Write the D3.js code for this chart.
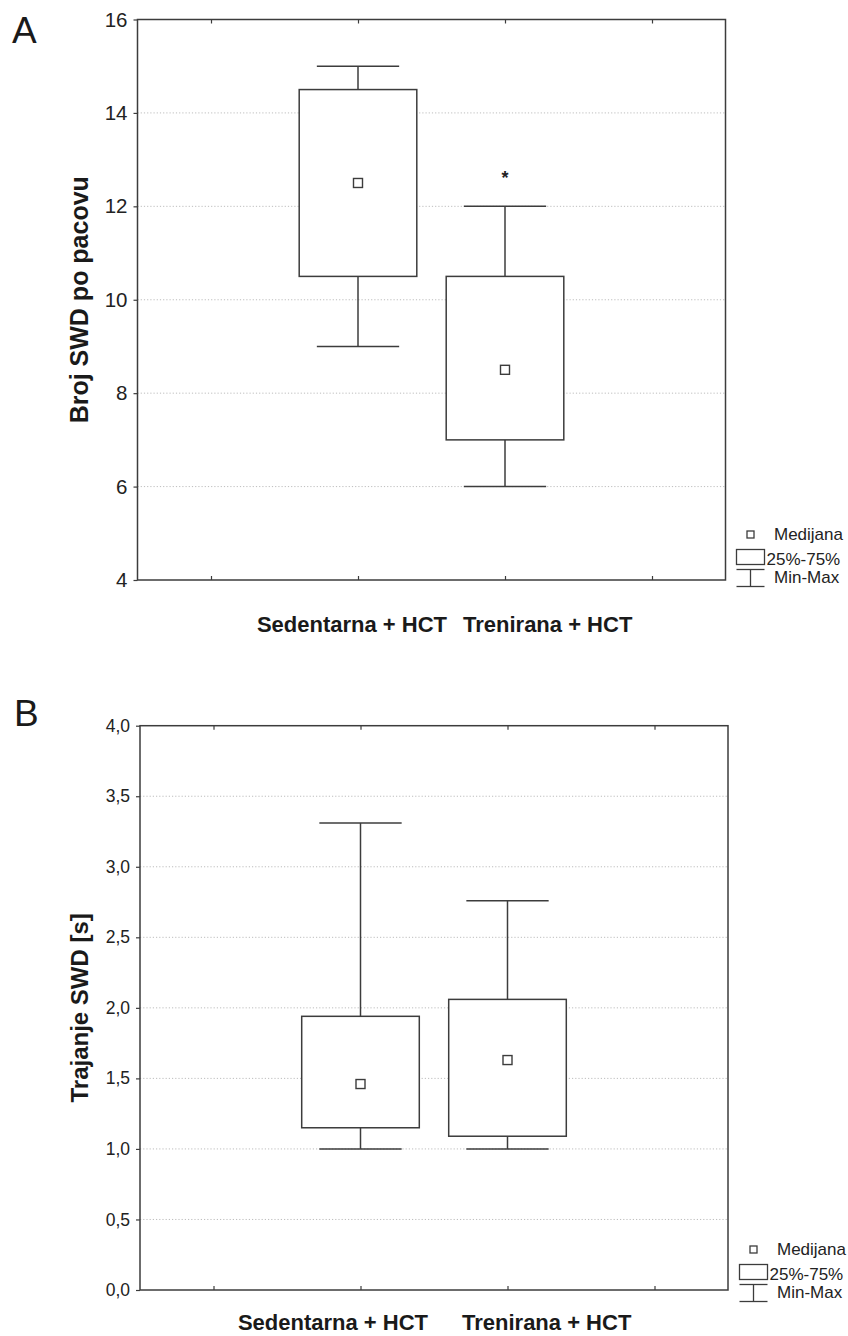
<!DOCTYPE html>
<html>
<head>
<meta charset="utf-8">
<script src="https://cdnjs.cloudflare.com/ajax/libs/d3/7.8.5/d3.min.js"></script>
<style>
  html, body { margin: 0; padding: 0; background: #fff; }
  svg { display: block; font-family: "Liberation Sans", Arial, sans-serif; }
</style>
</head>
<body>
<svg id="chart" width="848" height="1336"></svg>
<script>
// Groups shown on both panels
const categories = ["Sedentarna + HCT", "Trenirana + HCT"];
const categorySlots = [2, 3];          // slot of each group on the 4-slot axis
const axisSlots = [1, 2, 3, 4];        // tick slots on the category axis

// Panel A: number of SWD per rat
const countMin    = [9, 6];
const countQ1     = [10.5, 7];
const countMedian = [12.5, 8.5];
const countQ3     = [14.5, 10.5];
const countMax    = [15, 12];
const countTicks  = [4, 6, 8, 10, 12, 14, 16];
const countStars  = [null, 12.65];     // significance marker per group

// Panel B: SWD duration in seconds
const durMin    = [1.0, 1.0];
const durQ1     = [1.15, 1.09];
const durMedian = [1.46, 1.63];
const durQ3     = [1.94, 2.06];
const durMax    = [3.31, 2.76];
const durTicks  = [0, 0.5, 1.0, 1.5, 2.0, 2.5, 3.0, 3.5, 4.0];

const legendLabels = ["Medijana", "25%-75%", "Min-Max"];

const svg = d3.select("#chart");
const ink = "#3c3c3c";

function drawPanel(p) {
  const g = svg.append("g");
  const x = d3.scaleLinear().domain([0.5, 4.5]).range([p.left, p.right]);
  const y = d3.scaleLinear().domain(p.yDomain).range([p.bottom, p.top]);

  // panel letter
  g.append("text").attr("x", p.letterX).attr("y", p.letterY)
    .attr("font-size", 37).attr("fill", "#1a1a1a").text(p.letter);

  // dotted grid
  g.append("g").selectAll("line")
    .data(p.ticks.filter(t => t > p.yDomain[0] && t < p.yDomain[1]))
    .join("line")
    .attr("x1", p.left).attr("x2", p.right)
    .attr("y1", d => y(d)).attr("y2", d => y(d))
    .attr("stroke", "#bdbdbd").attr("stroke-width", 1)
    .attr("stroke-dasharray", "1.2,2");

  // left value axis
  const yAxis = d3.axisLeft(y).tickValues(p.ticks).tickSize(4).tickPadding(6)
    .tickFormat(p.fmt);
  const ya = g.append("g").attr("transform", `translate(${p.left},0)`).call(yAxis);
  ya.select(".domain").remove();
  ya.selectAll(".tick line").attr("stroke", ink).attr("stroke-width", 1.2);
  ya.selectAll(".tick text").attr("font-size", p.tickFont).attr("fill", "#222")
    .attr("font-family", "Liberation Sans, Arial, sans-serif");

  // category slot ticks, inward on top and bottom
  const bx = d3.axisBottom(x).tickValues(axisSlots).tickSize(-4).tickFormat("");
  const bxa = g.append("g").attr("transform", `translate(0,${p.bottom})`).call(bx);
  bxa.select(".domain").remove();
  bxa.selectAll(".tick line").attr("stroke", ink).attr("stroke-width", 1.2);
  const tx = d3.axisTop(x).tickValues(axisSlots).tickSize(-4).tickFormat("");
  const txa = g.append("g").attr("transform", `translate(0,${p.top})`).call(tx);
  txa.select(".domain").remove();
  txa.selectAll(".tick line").attr("stroke", ink).attr("stroke-width", 1.2);

  // frame
  g.append("rect").attr("x", p.left).attr("y", p.top)
    .attr("width", p.right - p.left).attr("height", p.bottom - p.top)
    .attr("fill", "none").attr("stroke", ink).attr("stroke-width", 1.5);

  // box plots
  const step = x(2) - x(1);
  const boxW = step * 0.8, capW = step * 0.56, med = 9;
  const rows = categories.map((c, i) => ({
    c, pos: categorySlots[i], min: p.min[i], q1: p.q1[i], med: p.med[i],
    q3: p.q3[i], max: p.max[i], star: p.stars ? p.stars[i] : null
  }));
  const bg = g.append("g").selectAll("g").data(rows).join("g");
  bg.append("line").attr("x1", d => x(d.pos)).attr("x2", d => x(d.pos))
    .attr("y1", d => y(d.max)).attr("y2", d => y(d.q3))
    .attr("stroke", ink).attr("stroke-width", 1.5);
  bg.append("line").attr("x1", d => x(d.pos)).attr("x2", d => x(d.pos))
    .attr("y1", d => y(d.q1)).attr("y2", d => y(d.min))
    .attr("stroke", ink).attr("stroke-width", 1.5);
  bg.append("line").attr("x1", d => x(d.pos) - capW / 2).attr("x2", d => x(d.pos) + capW / 2)
    .attr("y1", d => y(d.max)).attr("y2", d => y(d.max))
    .attr("stroke", ink).attr("stroke-width", 1.5);
  bg.append("line").attr("x1", d => x(d.pos) - capW / 2).attr("x2", d => x(d.pos) + capW / 2)
    .attr("y1", d => y(d.min)).attr("y2", d => y(d.min))
    .attr("stroke", ink).attr("stroke-width", 1.5);
  bg.append("rect").attr("x", d => x(d.pos) - boxW / 2).attr("width", boxW)
    .attr("y", d => y(d.q3)).attr("height", d => y(d.q1) - y(d.q3))
    .attr("fill", "#fff").attr("stroke", ink).attr("stroke-width", 1.5);
  bg.append("rect").attr("x", d => x(d.pos) - med / 2).attr("y", d => y(d.med) - med / 2)
    .attr("width", med).attr("height", med)
    .attr("fill", "#fff").attr("stroke", ink).attr("stroke-width", 1.4);
  bg.filter(d => d.star != null).append("text")
    .attr("x", d => x(d.pos)).attr("y", d => y(d.star) + 8)
    .attr("text-anchor", "middle").attr("font-size", 18).attr("font-weight", "bold")
    .attr("fill", "#222").text("*");

  // value axis title
  g.append("text")
    .attr("transform", `translate(${p.titleX},${(p.top + p.bottom) / 2}) rotate(-90)`)
    .attr("text-anchor", "middle").attr("font-size", p.titleFont).attr("font-weight", "bold")
    .attr("fill", "#1a1a1a").text(p.title);

  // category labels
  g.append("text").attr("x", x(categorySlots[0]) + p.lab1Off).attr("y", p.labY)
    .attr("text-anchor", "end").attr("font-size", 22).attr("font-weight", "bold")
    .attr("fill", "#1a1a1a").text(categories[0]);
  g.append("text").attr("x", x(categorySlots[1]) + p.lab2Off).attr("y", p.labY)
    .attr("text-anchor", "start").attr("font-size", 22).attr("font-weight", "bold")
    .attr("fill", "#1a1a1a").text(categories[1]);

  // legend
  const L = g.append("g").attr("transform", `translate(${p.legX},${p.legY})`);
  L.append("rect").attr("x", -3.5).attr("y", -3.5).attr("width", 7).attr("height", 7)
    .attr("fill", "#fff").attr("stroke", ink).attr("stroke-width", 1.3);
  L.append("rect").attr("x", -14).attr("y", 15).attr("width", 28).attr("height", 15)
    .attr("fill", "#fff").attr("stroke", ink).attr("stroke-width", 1.3);
  L.append("line").attr("x1", -14).attr("x2", 14).attr("y1", 35).attr("y2", 35)
    .attr("stroke", ink).attr("stroke-width", 1.3);
  L.append("line").attr("x1", -14).attr("x2", 14).attr("y1", 52).attr("y2", 52)
    .attr("stroke", ink).attr("stroke-width", 1.3);
  L.append("line").attr("x1", 0).attr("x2", 0).attr("y1", 35).attr("y2", 52)
    .attr("stroke", ink).attr("stroke-width", 1.3);
  const lt = [[23.5, 5], [16, 30], [23.5, 48]];
  L.selectAll("text.leg").data(legendLabels).join("text").attr("class", "leg")
    .attr("x", (d, i) => lt[i][0]).attr("y", (d, i) => lt[i][1])
    .attr("font-size", 17).attr("fill", "#222").text(d => d);
}

const commaFmt = d => d3.format(".1f")(d).replace(".", ",");

drawPanel({
  letter: "A", letterX: 12, letterY: 43,
  left: 137.5, right: 725.5, top: 19.5, bottom: 580,
  yDomain: [4, 16], ticks: countTicks, fmt: d3.format("d"), tickFont: 20.5,
  min: countMin, q1: countQ1, med: countMedian, q3: countQ3, max: countMax, stars: countStars,
  title: "Broj SWD po pacovu", titleX: 88, titleFont: 25,
  labY: 632, lab1Off: 89, lab2Off: -42,
  legX: 750.5, legY: 534.5
});

drawPanel({
  letter: "B", letterX: 14, letterY: 726,
  left: 140, right: 728, top: 725.7, bottom: 1290,
  yDomain: [0, 4], ticks: durTicks, fmt: commaFmt, tickFont: 17.5,
  min: durMin, q1: durQ1, med: durMedian, q3: durQ3, max: durMax, stars: null,
  title: "Trajanje SWD [s]", titleX: 88, titleFont: 24,
  labY: 1330, lab1Off: 67.5, lab2Off: -45.5,
  legX: 753.5, legY: 1249.5
});
</script>
</body>
</html>
